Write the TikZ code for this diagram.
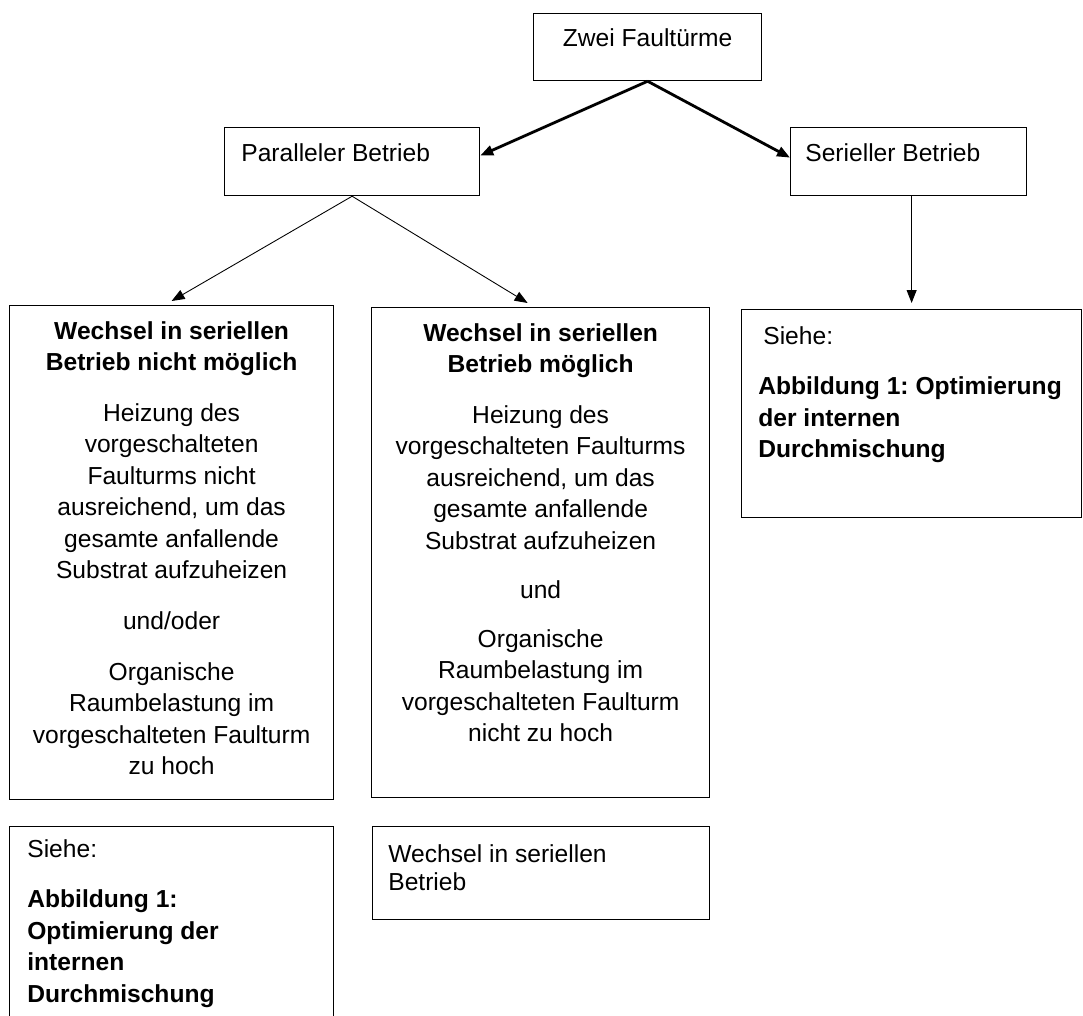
\documentclass[tikz,border=0pt]{standalone}
\usepackage{fontspec}
\setmainfont{Liberation Sans}
\frenchspacing
\usetikzlibrary{arrows.meta}
\usetikzlibrary{positioning}
\tikzset{
  kasten/.style={draw, line width=0.7pt, inner sep=0pt, anchor=north west},
  schrift/.style={font=\fontsize{14}{17.9}\selectfont, align=#1, inner sep=0pt},
  schrift/.default=center,
  pfeil/.style={-{Triangle[length=0.26cm, width=0.2cm]}, line width=0.5pt},
  dickpfeil/.style={pfeil, line width=1.6pt},
}

\begin{document}
\begin{tikzpicture}
  \useasboundingbox (0,0) rectangle (21.66,-20.3);
  \clip (0,0) rectangle (21.66,-20.3);
  % Kaesten
  \node[kasten, minimum width=4.56cm, minimum height=1.34cm] (zwei) at (10.66,-0.26) {};
  \node[kasten, minimum width=5.10cm, minimum height=1.36cm] (parallel) at (4.48,-2.54) {};
  \node[kasten, minimum width=4.72cm, minimum height=1.36cm] (seriell) at (15.80,-2.54) {};
  \node[kasten, minimum width=6.48cm, minimum height=9.88cm] (nichtmoeglich) at (0.18,-6.10) {};
  \node[kasten, minimum width=6.76cm, minimum height=9.80cm] (moeglich) at (7.42,-6.14) {};
  \node[kasten, minimum width=6.80cm, minimum height=4.16cm] (sieherechts) at (14.82,-6.18) {};
  \node[kasten, minimum width=6.48cm, minimum height=5.00cm] (siehelinks) at (0.18,-16.52) {};
  \node[kasten, minimum width=6.74cm, minimum height=1.86cm] (wechsel) at (7.44,-16.52) {};
  % Texte
  \node[schrift, anchor=north] (zwei-t) at ([yshift=-0.30cm]zwei.north) {Zwei Faultürme};
  \node[schrift=left, anchor=north west] (parallel-t) at ([xshift=0.34cm, yshift=-0.32cm]parallel.north west) {Paralleler Betrieb};
  \node[schrift=left, anchor=north west] (seriell-t) at ([xshift=0.30cm, yshift=-0.32cm]seriell.north west) {Serieller Betrieb};
  \node[schrift, anchor=north] (nichtmoeglich-t) at ([yshift=-0.32cm]nichtmoeglich.north) {%
    \textbf{Wechsel in seriellen}\\\textbf{Betrieb nicht möglich}\\[11pt]
    Heizung des\\vorgeschalteten\\Faulturms nicht\\ausreichend, um das\\gesamte anfallende\\Substrat aufzuheizen\\[11pt]
    und/oder\\[11pt]
    Organische\\Raumbelastung im\\vorgeschalteten Faulturm\\zu hoch};
  \node[schrift, anchor=north] (moeglich-t) at ([yshift=-0.32cm]moeglich.north) {%
    \textbf{Wechsel in seriellen}\\\textbf{Betrieb möglich}\\[11pt]
    Heizung des\\vorgeschalteten Faulturms\\ausreichend, um das\\gesamte anfallende\\Substrat aufzuheizen\\[10pt]
    und\\[10pt]
    Organische\\Raumbelastung im\\vorgeschalteten Faulturm\\nicht zu hoch};
  \node[schrift=left, anchor=north west] (sieherechts-t) at ([xshift=0.34cm, yshift=-0.34cm]sieherechts.north west) {%
    \hspace*{0.1cm}Siehe:\\[11pt]
    \textbf{Abbildung 1: Optimierung}\\\textbf{der internen}\\\textbf{Durchmischung}};
  \node[schrift=left, anchor=north west] (siehelinks-t) at ([xshift=0.36cm, yshift=-0.26cm]siehelinks.north west) {%
    Siehe:\\[11pt]
    \textbf{Abbildung 1:}\\\textbf{Optimierung der}\\\textbf{internen}\\\textbf{Durchmischung}};
  \node[schrift=left, anchor=north west, font=\fontsize{14}{16.1}\selectfont] (wechsel-t) at ([xshift=0.32cm, yshift=-0.36cm]wechsel.north west) {%
    Wechsel in seriellen\\Betrieb};
  % Pfeile
  \draw[dickpfeil] (zwei.south) -- ([yshift=0.12cm]parallel.east);
  \draw[dickpfeil] (zwei.south) -- ([yshift=0.08cm]seriell.west);
  \draw[pfeil] (parallel.south) -- ([yshift=0.08cm]nichtmoeglich.north);
  \draw[pfeil] (parallel.south) -- ([xshift=-0.26cm, yshift=0.08cm]moeglich.north);
  \draw[pfeil] (sieherechts.north |- seriell.south) -- ([yshift=0.12cm]sieherechts.north);
\end{tikzpicture}
\end{document}
